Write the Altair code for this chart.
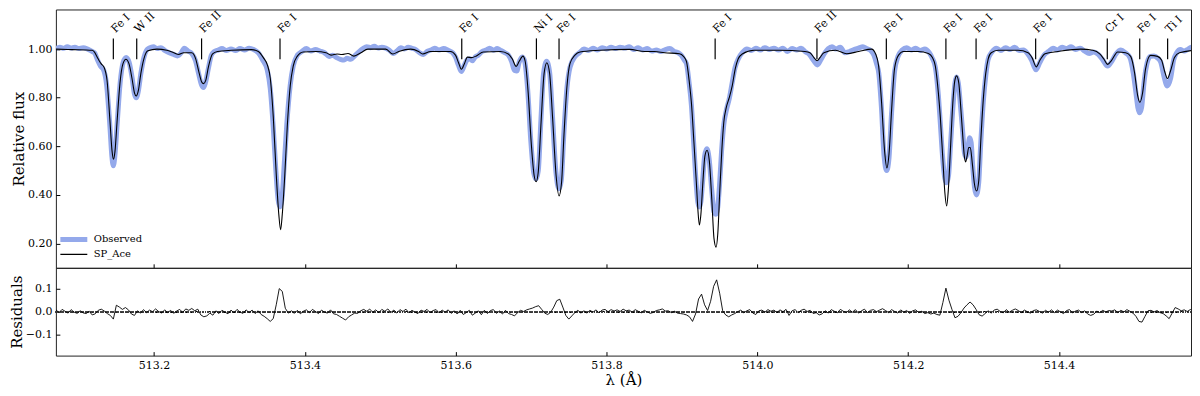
import altair as alt
import pandas as pd

FONT = "DejaVu Serif"

# ---------------- data ----------------
model_wl = [513.069, 513.091, 513.118, 513.1205, 513.1258, 513.1297, 513.1337, 513.1377, 513.1416, 513.1443,
            513.1462, 513.1482, 513.1509, 513.1548, 513.1588, 513.1627, 513.1667, 513.1707, 513.174, 513.1763,
            513.1792, 513.1825, 513.1865, 513.1918, 513.2037, 513.2168, 513.2261, 513.2327, 513.2393, 513.2499,
            513.2552, 513.2591, 513.2631, 513.2657, 513.2684, 513.2723, 513.2776, 513.2842, 513.3027, 513.3291,
            513.3383, 513.3449, 513.3502, 513.3541, 513.3581, 513.3621, 513.3654, 513.3678, 513.37, 513.3733,
            513.3766, 513.3806, 513.3845, 513.3898, 513.3977, 513.4149, 513.4281, 513.4347, 513.4426, 513.4492,
            513.4571, 513.465, 513.4743, 513.4835, 513.5073, 513.5165, 513.5244, 513.5403, 513.5508, 513.5561,
            513.5667, 513.5931, 513.5997, 513.6036, 513.6076, 513.6115, 513.6155, 513.6208, 513.6274, 513.6366,
            513.6591, 513.6697, 513.6749, 513.6802, 513.6842, 513.6891, 513.6921, 513.6961, 513.7, 513.704,
            513.7066, 513.7093, 513.7132, 513.7172, 513.7208, 513.7245, 513.7284, 513.7331, 513.737, 513.7403,
            513.7436, 513.7476, 513.7515, 513.7581, 513.7647, 513.7911, 513.8307, 513.8505, 513.8637, 513.8769,
            513.8967, 513.902, 513.9059, 513.9099, 513.9125, 513.9158, 513.9191, 513.9211, 513.9231, 513.9251,
            513.9277, 513.9304, 513.9333, 513.9363, 513.9396, 513.9425, 513.9452, 513.9475, 513.9502, 513.9528,
            513.9555, 513.9588, 513.9627, 513.9667, 513.9707, 513.9746, 513.9799, 513.9957, 514.0287, 514.0631,
            514.0697, 514.075, 514.0793, 514.0829, 514.0882, 514.1036, 514.1185, 514.1344, 514.1515, 514.1568,
            514.1608, 514.1647, 514.1687, 514.1717, 514.1746, 514.178, 514.1819, 514.1872, 514.1938, 514.2136,
            514.2268, 514.2321, 514.236, 514.24, 514.2426, 514.2459, 514.2486, 514.251, 514.2532, 514.2559,
            514.2592, 514.2618, 514.2642, 514.2671, 514.2697, 514.2724, 514.2744, 514.2761, 514.2781, 514.2803,
            514.2823, 514.285, 514.2876, 514.2907, 514.2936, 514.2962, 514.2995, 514.3028, 514.3061, 514.3101,
            514.3193, 514.3457, 514.3589, 514.3642, 514.3699, 514.3748, 514.3814, 514.3986, 514.4289, 514.4448,
            514.454, 514.4593, 514.4646, 514.4699, 514.4778, 514.4884, 514.495, 514.5003, 514.5042, 514.5073,
            514.5108, 514.5148, 514.5214, 514.5306, 514.5359, 514.5399, 514.5438, 514.5478, 514.5531, 514.5597,
            514.58]
model_flux = [1.0, 0.998, 0.995, 0.99, 0.96, 0.94, 0.925, 0.87, 0.70, 0.58,
              0.547, 0.58, 0.70, 0.86, 0.94, 0.958, 0.94, 0.88, 0.82, 0.807,
              0.83, 0.90, 0.96, 0.993, 1.0, 0.995, 0.985, 0.978, 0.985, 0.985,
              0.96, 0.91, 0.865, 0.858, 0.87, 0.93, 0.98, 0.99, 0.995, 0.998,
              0.99, 0.965, 0.935, 0.88, 0.72, 0.48, 0.32, 0.257, 0.32, 0.48,
              0.68, 0.85, 0.93, 0.97, 0.988, 0.99, 0.985, 0.975, 0.98, 0.978,
              0.982, 0.971, 0.985, 1.0, 1.0, 0.98, 0.99, 1.0, 0.99, 0.98,
              0.99, 0.99, 0.975, 0.945, 0.917, 0.94, 0.967, 0.965, 0.972, 0.988,
              0.99, 0.98, 0.96, 0.929, 0.95, 0.971, 0.95, 0.82, 0.62, 0.48,
              0.454, 0.49, 0.70, 0.90, 0.944, 0.90, 0.72, 0.48, 0.396, 0.45,
              0.65, 0.85, 0.94, 0.975, 0.988, 0.995, 0.999, 0.99, 0.99, 0.985,
              0.981, 0.97, 0.95, 0.86, 0.78, 0.62, 0.45, 0.34, 0.276, 0.32,
              0.45, 0.56, 0.584, 0.54, 0.38, 0.22, 0.185, 0.24, 0.42, 0.58,
              0.70, 0.76, 0.80, 0.85, 0.92, 0.96, 0.98, 0.995, 0.995, 0.99,
              0.985, 0.965, 0.952, 0.965, 0.985, 0.995, 0.981, 0.99, 1.0, 0.98,
              0.93, 0.78, 0.58, 0.511, 0.57, 0.75, 0.92, 0.975, 0.99, 0.99,
              0.982, 0.965, 0.93, 0.82, 0.72, 0.55, 0.41, 0.355, 0.42, 0.58,
              0.78, 0.87, 0.89, 0.86, 0.76, 0.64, 0.56, 0.536, 0.56, 0.595,
              0.595, 0.53, 0.45, 0.416, 0.46, 0.62, 0.79, 0.90, 0.96, 0.985,
              0.995, 0.995, 0.985, 0.965, 0.927, 0.955, 0.981, 0.99, 1.0, 0.995,
              0.98, 0.96, 0.937, 0.955, 0.988, 0.985, 0.97, 0.90, 0.81, 0.781,
              0.82, 0.92, 0.974, 0.97, 0.955, 0.91, 0.879, 0.91, 0.965, 0.985,
              0.995]

obs_wl = [513.070, 513.075, 513.080, 513.085, 513.090, 513.095, 513.100, 513.106, 513.112, 513.118,
          513.121, 513.125, 513.129, 513.133, 513.137, 513.1415, 513.144, 513.146, 513.148, 513.151,
          513.155, 513.159, 513.163, 513.167, 513.171, 513.174, 513.1765, 513.179, 513.1825, 513.1865,
          513.190, 513.194, 513.199, 513.204, 513.209, 513.214, 513.220, 513.226, 513.231, 513.236,
          513.240, 513.245, 513.250, 513.255, 513.259, 513.263, 513.2655, 513.268, 513.272, 513.276,
          513.280, 513.285, 513.290, 513.296, 513.302, 513.308, 513.314, 513.320, 513.326, 513.332,
          513.338, 513.344, 513.350, 513.354, 513.358, 513.3615, 513.3645, 513.367, 513.3695, 513.3725,
          513.376, 513.3805, 513.3845, 513.390, 513.396, 513.402, 513.408, 513.414, 513.420, 513.426,
          513.432, 513.437, 513.442, 513.447, 513.452, 513.456, 513.461, 513.466, 513.472, 513.477,
          513.482, 513.487, 513.492, 513.497, 513.502, 513.507, 513.512, 513.517, 513.522, 513.527,
          513.532, 513.537, 513.542, 513.547, 513.552, 513.557, 513.562, 513.567, 513.572, 513.578,
          513.584, 513.590, 513.596, 513.600, 513.6035, 513.6075, 513.611, 513.615, 513.619, 513.622,
          513.626, 513.630, 513.635, 513.640, 513.645, 513.650, 513.655, 513.660, 513.665, 513.670,
          513.674, 513.678, 513.681, 513.684, 513.688, 513.691, 513.6955, 513.6995, 513.7035, 513.7065,
          513.7095, 513.713, 513.7165, 513.7205, 513.7245, 513.728, 513.733, 513.737, 513.740, 513.7435,
          513.7475, 513.7515, 513.758, 513.764, 513.770, 513.776, 513.782, 513.788, 513.794, 513.800,
          513.806, 513.812, 513.818, 513.824, 513.830, 513.836, 513.842, 513.848, 513.854, 513.860,
          513.866, 513.872, 513.878, 513.884, 513.890, 513.895, 513.899, 513.903, 513.906, 513.9095,
          513.9125, 513.916, 513.919, 513.921, 513.923, 513.925, 513.9275, 513.930, 513.933, 513.936,
          513.9395, 513.9425, 513.945, 513.9475, 513.950, 513.9525, 513.9555, 513.959, 513.963, 513.9665,
          513.9705, 513.975, 513.980, 513.986, 513.992, 513.998, 514.004, 514.010, 514.016, 514.022,
          514.028, 514.034, 514.040, 514.046, 514.052, 514.058, 514.064, 514.069, 514.074, 514.0795,
          514.084, 514.089, 514.094, 514.099, 514.104, 514.110, 514.116, 514.122, 514.128, 514.134,
          514.140, 514.145, 514.150, 514.1545, 514.158, 514.161, 514.1645, 514.168, 514.1715, 514.1745,
          514.178, 514.182, 514.1865, 514.192, 514.198, 514.204, 514.210, 514.216, 514.222, 514.228,
          514.232, 514.236, 514.240, 514.2425, 514.2455, 514.2485, 514.251, 514.2535, 514.256, 514.2595,
          514.262, 514.264, 514.2665, 514.2695, 514.2725, 514.2745, 514.2765, 514.279, 514.2815, 514.2835,
          514.2855, 514.288, 514.2905, 514.2935, 514.296, 514.2995, 514.303, 514.306, 514.311, 514.317,
          514.323, 514.329, 514.335, 514.341, 514.347, 514.353, 514.358, 514.3635, 514.3695, 514.3745,
          514.380, 514.386, 514.392, 514.398, 514.404, 514.410, 514.416, 514.422, 514.428, 514.434,
          514.440, 514.446, 514.452, 514.4575, 514.4645, 514.470, 514.476, 514.482, 514.488, 514.494,
          514.4985, 514.502, 514.5045, 514.507, 514.5095, 514.513, 514.517, 514.521, 514.526, 514.531,
          514.535, 514.539, 514.5435, 514.548, 514.552, 514.556, 514.561, 514.566, 514.571, 514.576,
          514.580]
obs_flux = [1.002, 1.008, 1.003, 1.010, 1.004, 1.008, 1.002, 1.006, 1.000, 0.990,
            0.985, 0.955, 0.930, 0.915, 0.855, 0.68, 0.56, 0.52, 0.56, 0.69,
            0.86, 0.945, 0.965, 0.945, 0.88, 0.815, 0.800, 0.825, 0.90, 0.965,
            0.995, 1.005, 1.010, 1.002, 1.006, 0.995, 0.985, 0.978, 0.972, 0.985,
            1.004, 0.992, 0.982, 0.952, 0.90, 0.852, 0.842, 0.86, 0.92, 0.975,
            0.990, 0.996, 1.002, 0.994, 1.000, 0.994, 1.002, 0.996, 1.004, 0.998,
            0.985, 0.955, 0.915, 0.84, 0.68, 0.50, 0.38, 0.35, 0.38, 0.52,
            0.69, 0.85, 0.93, 0.975, 0.990, 1.002, 0.992, 0.998, 0.992, 0.985,
            0.970, 0.975, 0.965, 0.958, 0.955, 0.962, 0.958, 0.972, 0.990, 1.002,
            1.010, 1.006, 1.012, 1.004, 1.008, 1.004, 0.995, 0.982, 0.992, 1.006,
            1.000, 1.008, 1.003, 0.998, 0.985, 0.978, 0.990, 0.996, 1.004, 0.996,
            1.002, 0.995, 0.985, 0.965, 0.935, 0.908, 0.930, 0.955, 0.960, 0.952,
            0.968, 0.975, 0.990, 0.996, 1.004, 0.995, 1.002, 0.994, 0.985, 0.975,
            0.950, 0.912, 0.91, 0.945, 0.968, 0.955, 0.83, 0.625, 0.49, 0.465,
            0.50, 0.71, 0.90, 0.950, 0.905, 0.74, 0.49, 0.425, 0.46, 0.66,
            0.84, 0.925, 0.968, 0.985, 1.000, 0.994, 1.004, 0.996, 1.006, 1.000,
            1.008, 1.002, 1.008, 1.004, 1.010, 0.998, 1.006, 0.996, 1.002, 0.992,
            0.996, 0.990, 0.998, 1.002, 0.990, 0.985, 0.975, 0.955, 0.94, 0.86,
            0.77, 0.59, 0.44, 0.37, 0.35, 0.37, 0.46, 0.56, 0.59, 0.55,
            0.42, 0.33, 0.32, 0.35, 0.45, 0.58, 0.69, 0.75, 0.80, 0.86,
            0.925, 0.962, 0.985, 1.000, 0.994, 1.004, 0.996, 1.006, 0.998, 1.004,
            0.996, 1.004, 0.990, 1.002, 0.996, 1.004, 0.988, 0.978, 0.955, 0.935,
            0.955, 0.982, 1.002, 1.010, 1.000, 1.008, 0.985, 0.990, 0.998, 1.004,
            1.010, 1.002, 0.995, 0.975, 0.94, 0.90, 0.76, 0.56, 0.50, 0.55,
            0.74, 0.91, 0.970, 0.996, 1.006, 0.996, 1.004, 0.994, 1.000, 0.985,
            0.962, 0.925, 0.81, 0.70, 0.56, 0.47, 0.45, 0.48, 0.60, 0.77,
            0.86, 0.885, 0.86, 0.76, 0.65, 0.575, 0.555, 0.59, 0.635, 0.615,
            0.52, 0.43, 0.40, 0.45, 0.60, 0.78, 0.895, 0.958, 0.988, 1.004,
            0.994, 1.006, 0.998, 1.008, 0.994, 0.996, 0.982, 0.955, 0.915, 0.945,
            0.975, 0.990, 1.004, 0.996, 1.008, 1.002, 1.010, 0.998, 1.004, 0.992,
            0.982, 0.988, 0.978, 0.958, 0.930, 0.950, 0.982, 0.996, 0.985, 0.965,
            0.90, 0.82, 0.76, 0.738, 0.76, 0.87, 0.945, 0.970, 0.972, 0.962,
            0.945, 0.89, 0.848, 0.88, 0.955, 0.985, 0.998, 0.992, 1.000, 1.008,
            1.004]

res_start = 513.070
res_step = 0.004
res_vals = [
    0.008, -0.004, 0.010, 0.002, -0.006, 0.009, -0.002, -0.007, 0.004, -0.005, -0.008, 0.002, -0.014, -0.009, 0.006, 0.011, 0.003, -0.008, -0.016, -0.032, 0.028, 0.020, 0.010, 0.018, 0.008,
    -0.010, -0.016, 0.004, -0.006, 0.009, -0.004, 0.007, 0.000, 0.012, 0.001, -0.006, 0.008, -0.004, 0.006, -0.007, 0.003, 0.010, -0.003, 0.012, 0.006, 0.014, 0.004, 0.011, -0.014, -0.022,
    -0.018, -0.006, -0.015, 0.004, -0.008, 0.006, -0.002, -0.009, 0.007, -0.005, 0.010, -0.002, -0.007, 0.008, -0.004, 0.007, -0.008, 0.004, -0.012, -0.020, -0.030, -0.042, -0.030, 0.030, 0.100,
    0.088, 0.015, -0.006, 0.004, -0.007, 0.006, -0.009, 0.002, 0.008, -0.004, 0.010, 0.001, -0.008, 0.007, -0.002, -0.006, 0.008, -0.009, -0.012, -0.020, -0.028, -0.036, -0.022, -0.014, -0.006,
    -0.007, 0.004, 0.010, 0.002, 0.011, -0.002, 0.008, -0.004, 0.010, 0.002, 0.012, -0.003, 0.007, -0.006, 0.009, 0.001, 0.011, -0.005, 0.006, -0.002, -0.008, 0.007, 0.001, 0.010, -0.004,
    0.005, 0.009, -0.005, 0.007, -0.002, 0.008, -0.007, 0.004, -0.010, 0.006, -0.012, -0.004, 0.006, -0.015, -0.006, 0.004, -0.013, 0.006, -0.008, 0.005, 0.009, -0.007, 0.003, -0.010, 0.006,
    -0.008, -0.012, -0.018, -0.004, 0.006, 0.001, 0.008, 0.012, 0.016, 0.022, 0.026, 0.010, -0.006, -0.012, -0.002, 0.020, 0.048, 0.054, 0.020, -0.016, -0.032, -0.018, -0.004, 0.006, -0.006,
    0.004, -0.006, 0.006, -0.002, 0.008, -0.005, 0.007, 0.010, 0.000, 0.009, 0.003, 0.008, 0.001, 0.011, 0.004, 0.007, -0.002, 0.009, 0.002, -0.005, 0.006, -0.001, -0.007, -0.003, 0.005,
    0.008, 0.012, 0.003, 0.004, -0.004, 0.002, -0.006, -0.008, -0.010, -0.014, -0.022, -0.042, -0.010, 0.055, 0.076, 0.030, 0.005, 0.045, 0.110, 0.138, 0.080, 0.004, -0.014, -0.022, -0.014,
    -0.008, 0.000, 0.007, -0.005, 0.004, 0.009, -0.006, -0.012, 0.004, 0.007, -0.002, 0.009, 0.002, 0.007, -0.004, 0.008, 0.000, 0.010, -0.016, 0.004, 0.009, -0.004, 0.006, 0.011, 0.001,
    0.006, -0.008, -0.004, -0.014, -0.009, 0.004, -0.006, 0.009, 0.002, -0.005, 0.010, 0.002, -0.004, 0.008, -0.002, 0.009, -0.006, 0.004, 0.011, -0.004, 0.006, 0.009, 0.000, 0.007, 0.013,
    0.005, -0.004, 0.009, 0.001, -0.006, 0.008, -0.002, 0.005, -0.007, 0.004, 0.008, -0.004, 0.002, -0.008, -0.004, -0.010, -0.006, -0.012, -0.015, 0.040, 0.102, 0.050, 0.010, -0.026, -0.020,
    -0.004, 0.016, 0.030, 0.042, 0.030, 0.010, -0.013, -0.019, -0.008, 0.004, -0.006, 0.007, 0.011, 0.001, -0.005, 0.009, -0.002, 0.006, 0.012, 0.005, -0.004, 0.007, 0.000, -0.006, 0.005,
    0.008, 0.001, -0.006, 0.006, -0.002, 0.008, -0.004, 0.007, -0.001, -0.008, 0.005, 0.009, -0.005, 0.003, 0.007, -0.004, 0.004, -0.010, -0.016, -0.011, 0.003, -0.004, 0.006, -0.001, 0.005,
    0.003, 0.008, -0.004, 0.006, -0.001, 0.009, 0.002, -0.006, -0.020, -0.042, -0.045, -0.020, 0.004, 0.006, -0.001, 0.005, -0.004, -0.008, -0.018, -0.030, -0.006, 0.018, 0.012, 0.004, 0.008,
    0.001, 0.009, 0.010,
]

line_wl = [513.146, 513.177, 513.263, 513.367, 513.608, 513.707, 513.737, 513.944, 514.079,
           514.171, 514.250, 514.290, 514.369, 514.464, 514.507, 514.544]
line_names = ["Fe I", "W II", "Fe II", "Fe I", "Fe I", "Ni I", "Fe I", "Fe I", "Fe II",
              "Fe I", "Fe I", "Fe I", "Fe I", "Cr I", "Fe I", "Ti I"]

x_ticks = [513.2, 513.4, 513.6, 513.8, 514.0, 514.2, 514.4]
flux_ticks = [0.2, 0.4, 0.6, 0.8, 1.0]
res_ticks = [-0.1, 0.0, 0.1]
series_names = ["Observed", "SP_Ace"]
series_colors = ["#94a9eb", "#000000"]
series_widths = [5.0, 1.1]

# ---------------- tables ----------------
spec_df = pd.concat([
    pd.DataFrame({"wl": obs_wl, "flux": obs_flux, "series": series_names[0]}),
    pd.DataFrame({"wl": model_wl, "flux": model_flux, "series": series_names[1]}),
], ignore_index=True)
res_df = pd.DataFrame({"wl": [round(res_start + i * res_step, 4) for i in range(len(res_vals))],
                       "res": res_vals})
lines_df = pd.DataFrame({"wl": line_wl, "name": line_names})

W = 1138
H_TOP = 259
H_BOT = 88
X_DOM = [513.0698, 514.575]


def axis_common(**kw):
    base = dict(domain=False, grid=False, tickSize=4, offset=-4, tickColor="#000",
                tickWidth=1, labelFont=FONT, labelFontSize=11, labelColor="#000",
                titleFont=FONT, titleFontSize=15, titleFontWeight="normal", titleColor="#000")
    base.update(kw)
    return alt.Axis(**base)


def legend_common():
    return alt.Legend(title=None, orient="none", legendX=2, legendY=223,
                      symbolType="stroke", symbolSize=729, clipHeight=15,
                      rowPadding=0, labelFont=FONT, labelFontSize=10,
                      labelColor="#000", labelOffset=4)


x_top = alt.X("wl:Q", scale=alt.Scale(domain=X_DOM, nice=False, zero=False),
              axis=axis_common(values=x_ticks, labels=False, title=None))

spectra = alt.Chart(spec_df).mark_line(interpolate="monotone", clip=True).encode(
    x=x_top,
    y=alt.Y("flux:Q", scale=alt.Scale(domain=[0.10, 1.163], nice=False, zero=False),
            axis=axis_common(values=flux_ticks, format=".2f", title="Relative flux",
                             labelPadding=4, titlePadding=1)),
    color=alt.Color("series:N", scale=alt.Scale(domain=series_names, range=series_colors),
                    legend=legend_common()),
    strokeWidth=alt.StrokeWidth("series:N", scale=alt.Scale(domain=series_names, range=series_widths),
                                legend=legend_common()),
    detail="series:N",
)

line_ticks = alt.Chart(lines_df).mark_rule(color="#000", strokeWidth=1.2).encode(
    x=alt.X("wl:Q"), y=alt.value(29), y2=alt.value(50))

line_labels = alt.Chart(lines_df).mark_text(
    angle=315, align="left", baseline="alphabetic", font=FONT, fontSize=11, color="#000",
    dx=3, clip=True
).encode(x=alt.X("wl:Q"), y=alt.value(26), text="name:N")

top = alt.layer(spectra, line_ticks, line_labels).properties(width=W, height=H_TOP)

res_line = alt.Chart(res_df).mark_line(color="#000", strokeWidth=0.9, clip=True).encode(
    x=alt.X("wl:Q", scale=alt.Scale(domain=X_DOM, nice=False, zero=False),
            axis=axis_common(values=x_ticks, format=".1f", title="λ (Å)", labelPadding=4,
                             titlePadding=2)),
    y=alt.Y("res:Q", scale=alt.Scale(domain=[-0.19, 0.19], nice=False, zero=False),
            axis=axis_common(values=res_ticks, format=".1f", title="Residuals",
                             labelPadding=4, titlePadding=1)),
)
zero_rule = alt.Chart(res_df).mark_rule(color="#444", strokeWidth=0.6, strokeDash=[1, 1.5]).encode(
    y=alt.datum(0.0))

bottom = alt.layer(zero_rule, res_line).properties(width=W, height=H_BOT)

chart = alt.vconcat(top, bottom, spacing=0, bounds="flush").properties(
    padding={"left": 0, "top": 0, "right": 0, "bottom": 0},
    background="white",
).configure_view(stroke="#222", strokeWidth=1)

chart.save("out.html", embed_options={"renderer": "svg", "actions": False})
